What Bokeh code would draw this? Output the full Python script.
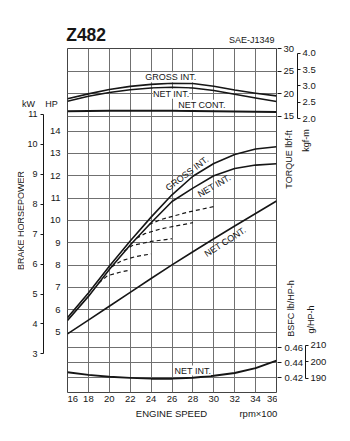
from bokeh.plotting import figure
from bokeh.models import Range1d, LinearAxis, FixedTicker, Grid, Label, PrintfTickFormatter
from bokeh.layouts import row, column
from bokeh.embed import file_html
from bokeh.resources import INLINE
from bokeh.core.validation import silence
from bokeh.core.validation.warnings import MISSING_RENDERERS

silence(MISSING_RENDERERS, True)

# ---------------- data ----------------
rpm = [16, 18, 20, 22, 24, 26, 28, 30, 32, 34, 36]          # engine speed, rpm x 100

torque_gross_int = [18.85, 19.95, 20.9, 21.6, 22.05, 22.3, 22.25, 21.65, 20.8, 20.1, 19.5]
torque_net_int = [18.3, 19.4, 20.25, 20.85, 21.25, 21.4, 21.25, 20.7, 19.85, 19.05, 18.25]
torque_net_cont = [16.1, 16.15, 16.2, 16.2, 16.2, 16.2, 16.15, 16.1, 16.05, 16.0, 15.95]

hp_gross_int = [5.65, 6.75, 7.95, 9.08, 10.15, 11.15, 11.98, 12.55, 12.95, 13.2, 13.3]
hp_net_int = [5.52, 6.6, 7.8, 8.9, 9.9, 10.85, 11.45, 12.0, 12.33, 12.48, 12.54]
hp_net_cont = [4.92, 5.54, 6.16, 6.78, 7.4, 8.01, 8.6, 9.18, 9.75, 10.31, 10.87]

bsfc_net_int = [0.427, 0.4235, 0.421, 0.4195, 0.4185, 0.4185, 0.4198, 0.4222, 0.426, 0.4325, 0.4425]

gov1_rpm = [19.0, 19.8, 21.0, 22.0]
gov1_hp = [7.2, 7.52, 7.68, 7.78]
gov2_rpm = [20.2, 21.2, 22.5, 24.0]
gov2_hp = [7.92, 8.2, 8.38, 8.5]
gov3_rpm = [21.4, 22.2, 24.0, 26.0]
gov3_hp = [8.62, 8.88, 9.06, 9.18]
gov4_rpm = [22.6, 23.4, 25.0, 28.0]
gov4_hp = [9.2, 9.41, 9.63, 9.9]
gov5_rpm = [23.8, 25.0, 27.5, 30.0]
gov5_hp = [9.82, 10.05, 10.37, 10.62]

# tick labels
rpm_ticks = [16, 18, 20, 22, 24, 26, 28, 30, 32, 34, 36]
hp_ticks = [5, 6, 7, 8, 9, 10, 11, 12, 13, 14]
kw_ticks = [3, 4, 5, 6, 7, 8, 9, 10, 11]
torque_ticks = [15, 20, 25, 30]
kgfm_ticks = [2.0, 2.5, 3.0, 3.5, 4.0]
bsfc_ticks = [0.42, 0.44, 0.46]
gphh_ticks = [190, 200, 210]

# unit conversions
KW_PER_HP = 0.7457
KGFM_PER_LBFFT = 0.138255
G_PER_LB = 453.592

# ---------------- geometry / scales (page pixels) ----------------
FONT = "Liberation Sans"
INK = "#161616"
GRID = "#707070"
W, H = 350, 441
ROW_TOP, ROW_BOT = 44, 408          # middle band of the page
F_TOP, F_BOT = 48, 392              # plot frame top / bottom
F_LEFT, F_RIGHT = 67, 275           # plot frame left / right
HP_TOP, HP_PX = 17.70, 22.333       # HP at frame top, px per HP
TQ_TOP, TQ_PX = 30.0, 4.513         # lbf-ft at frame top, px per lbf-ft
BS_BOT, BS_PX = 0.40, 750.0         # lb/HP-h at frame bottom, px per lb/HP-h
KW_TOP_Y = 109                      # top of kW / HP axis strips
RT_TOP, RT_BOT = 125, 338           # right-hand title block


def hp_at(y):
    return HP_TOP - (y - F_TOP) / HP_PX


def tq_at(y):
    return TQ_TOP - (y - F_TOP) / TQ_PX


def bs_at(y):
    return BS_BOT + (F_BOT - y) / BS_PX


def base_fig(width, height, x_range, y_range, **kw):
    f = figure(width=width, height=height, x_range=x_range, y_range=y_range,
               x_axis_type=None, y_axis_type=None, toolbar_location=None, tools="",
               output_backend="svg", title=None, frame_align=False, **kw)
    f.background_fill_color = "white"
    f.border_fill_color = "white"
    f.outline_line_color = None
    return f


def text_fig(width, height):
    return base_fig(width, height, Range1d(0, width), Range1d(0, height), min_border=0)


def style_axis(ax, ticks=True, line=False, tick_out=3, standoff=3, size="9.5px"):
    ax.major_label_text_font = FONT
    ax.major_label_text_font_size = size
    ax.major_label_text_color = INK
    ax.minor_tick_line_color = None
    ax.major_tick_line_color = INK if ticks else None
    ax.major_tick_out = tick_out if ticks else 0
    ax.major_tick_in = 0
    ax.major_label_standoff = standoff
    ax.axis_line_color = INK if line else None
    ax.axis_line_width = 1


def label(fig, x, y, text, size="9px", angle=0, align="left", baseline="middle",
          rng="default", bg=None, style="normal"):
    fig.add_layout(Label(x=x, y=y, text=text, y_range_name=rng, text_font=FONT,
                         text_font_size=size, text_color=INK, angle=angle, angle_units="deg",
                         text_align=align, text_baseline=baseline, text_font_style=style,
                         background_fill_color=bg))


# ---------------- main chart ----------------
main_w = F_RIGHT - F_LEFT + 1
p = base_fig(main_w + 1, ROW_BOT - ROW_TOP, Range1d(16, 36), Range1d(hp_at(F_BOT), HP_TOP),
             min_border_left=0, min_border_right=1,
             min_border_top=F_TOP - ROW_TOP, min_border_bottom=ROW_BOT - F_BOT)
p.extra_y_ranges = {"torque": Range1d(tq_at(F_BOT), TQ_TOP), "bsfc": Range1d(BS_BOT, bs_at(F_TOP))}
p.outline_line_color = "#444444"
p.outline_line_width = 1

p.add_layout(Grid(dimension=0, ticker=FixedTicker(ticks=rpm_ticks), grid_line_color=GRID))
p.add_layout(Grid(dimension=1, ticker=FixedTicker(ticks=hp_ticks), grid_line_color=GRID))
p.add_layout(Grid(dimension=1, y_range_name="torque", ticker=FixedTicker(ticks=torque_ticks),
                  grid_line_color=GRID))
p.add_layout(Grid(dimension=1, y_range_name="bsfc", ticker=FixedTicker(ticks=bsfc_ticks),
                  grid_line_color=GRID))

x_ax = LinearAxis(ticker=FixedTicker(ticks=rpm_ticks, minor_ticks=[]))
style_axis(x_ax, ticks=False, standoff=3)
p.add_layout(x_ax, "below")

for ys, w in ((torque_gross_int, 1.6), (torque_net_int, 1.6), (torque_net_cont, 2.0)):
    p.line(rpm, ys, y_range_name="torque", line_color=INK, line_width=w, line_join="round")
for ys in (hp_gross_int, hp_net_int, hp_net_cont):
    p.line(rpm, ys, line_color=INK, line_width=1.6, line_join="round")
for xs, ys in ((gov1_rpm, gov1_hp), (gov2_rpm, gov2_hp), (gov3_rpm, gov3_hp),
               (gov4_rpm, gov4_hp), (gov5_rpm, gov5_hp)):
    p.line(xs, ys, line_color=INK, line_width=1.2, line_dash="4 3")
p.line(rpm, bsfc_net_int, y_range_name="bsfc", line_color=INK, line_width=2.0, line_join="round")

label(p, 23.43, 23.64, "GROSS INT.", rng="torque", bg="white")
label(p, 24.17, 19.96, "NET INT.", rng="torque", bg="white")
label(p, 26.6, 17.52, "NET CONT.", rng="torque", bg="white")
label(p, 27.44, 12.1, "GROSS INT.", angle=37, align="center")
label(p, 30.04, 11.55, "NET INT.", angle=30, align="center")
label(p, 31.1, 9.04, "NET CONT.", angle=33, align="center")
label(p, 26.25, 0.4293, "NET INT.", rng="bsfc", bg="white")

# ---------------- left block: kW and HP axes ----------------
strip_h = ROW_BOT - KW_TOP_Y
lt = text_fig(F_LEFT, KW_TOP_Y - ROW_TOP)
label(lt, 28, KW_TOP_Y - 103.8, "kW", align="center")
label(lt, 51, KW_TOP_Y - 103.8, "HP", align="center")

bh = text_fig(24, strip_h)
label(bh, 20, ROW_BOT - 220, "BRAKE HORSEPOWER", angle=90, align="center")

pl = base_fig(20, strip_h, Range1d(0, 1),
              Range1d(hp_at(F_BOT) * KW_PER_HP, hp_at(KW_TOP_Y) * KW_PER_HP),
              min_border_left=18, min_border_right=1, min_border_top=0,
              min_border_bottom=ROW_BOT - F_BOT)
kw_ax = LinearAxis(ticker=FixedTicker(ticks=kw_ticks, minor_ticks=[]), bounds=(3, 11))
style_axis(kw_ax, ticks=True, line=True, tick_out=3, standoff=3, size="9px")
pl.add_layout(kw_ax, "left")

ph = base_fig(23, strip_h, Range1d(0, 1), Range1d(hp_at(F_BOT), hp_at(KW_TOP_Y)),
              min_border_left=22, min_border_right=0, min_border_top=0,
              min_border_bottom=ROW_BOT - F_BOT)
hp_ax = LinearAxis(ticker=FixedTicker(ticks=hp_ticks, minor_ticks=[]))
style_axis(hp_ax, ticks=False, standoff=6)
ph.add_layout(hp_ax, "left")

left_block = column(lt, row(bh, pl, ph))

# ---------------- right block: torque / BSFC axes ----------------
RW = W - F_RIGHT - 1
pt = base_fig(RW, RT_TOP - ROW_TOP, Range1d(0, 1), Range1d(tq_at(RT_TOP), TQ_TOP),
              min_border_left=0, min_border_right=RW - 1,
              min_border_top=F_TOP - ROW_TOP, min_border_bottom=0)
pt.extra_y_ranges = {"kgfm": Range1d(tq_at(RT_TOP) * KGFM_PER_LBFFT, TQ_TOP * KGFM_PER_LBFFT)}
tq_ax = LinearAxis(ticker=FixedTicker(ticks=torque_ticks, minor_ticks=[]))
style_axis(tq_ax, ticks=True, tick_out=3, standoff=2)
tq_ax.major_tick_in = 1
pt.add_layout(tq_ax, "right")
kg_ax = LinearAxis(y_range_name="kgfm", ticker=FixedTicker(ticks=kgfm_ticks, minor_ticks=[]),
                   bounds=(2.0, 4.0), formatter=PrintfTickFormatter(format="%.1f"))
style_axis(kg_ax, ticks=True, line=True, tick_out=3, standoff=2)
pt.add_layout(kg_ax, "right")

rt_h = RT_BOT - RT_TOP
rt = text_fig(RW, rt_h)
label(rt, 11, RT_BOT - 159, "TORQUE lbf-ft", angle=90, align="center")
label(rt, 28, RT_BOT - 140, "kgf-m", angle=90, align="center")
label(rt, 13.5, RT_BOT - 308, "BSFC lb/HP-h", angle=90, align="center")
label(rt, 33.5, RT_BOT - 319, "g/HP-h", angle=90, align="center")

pb = base_fig(RW, ROW_BOT - RT_BOT, Range1d(0, 1), Range1d(BS_BOT, bs_at(RT_BOT)),
              min_border_left=0, min_border_right=RW - 1, min_border_top=0,
              min_border_bottom=ROW_BOT - F_BOT)
pb.extra_y_ranges = {"gphh": Range1d(BS_BOT * G_PER_LB, bs_at(RT_BOT) * G_PER_LB)}
bs_ax = LinearAxis(ticker=FixedTicker(ticks=bsfc_ticks, minor_ticks=[]))
style_axis(bs_ax, ticks=True, tick_out=3, standoff=3)
bs_ax.major_tick_in = 1
pb.add_layout(bs_ax, "right")
g_ax = LinearAxis(y_range_name="gphh", ticker=FixedTicker(ticks=gphh_ticks, minor_ticks=[]),
                  bounds=(190, 210))
style_axis(g_ax, ticks=True, line=True, tick_out=3, standoff=2)
pb.add_layout(g_ax, "right")

right_block = column(pt, rt, pb)

# ---------------- top and bottom strips ----------------
top = text_fig(W, ROW_TOP)
label(top, 65.7, ROW_TOP - 34.6, "Z482", size="17.5px", style="bold")
label(top, 274, ROW_TOP - 39.2, "SAE-J1349", align="right")

bot_h = H - ROW_BOT
bot = text_fig(W, bot_h)
label(bot, (F_LEFT + F_RIGHT) / 2, H - 412.7, "ENGINE SPEED", size="9.5px", align="center")
label(bot, 276.7, H - 413, "rpm\u00d7100", size="9.5px", align="right")

layout = column(top, row(left_block, p, right_block), bot)
open("out.html", "w").write(file_html(layout, INLINE))
